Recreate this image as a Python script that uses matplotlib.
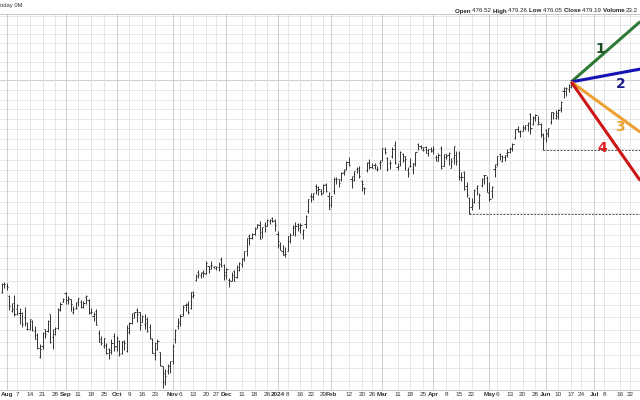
import numpy as np
import pandas as pd
import matplotlib
matplotlib.use("Agg")
import matplotlib.pyplot as plt

plt.rcParams['font.family'] = ['Liberation Sans', 'DejaVu Sans']

# trading calendar (US market holidays removed)
holidays = ["2023-09-04", "2023-11-23", "2023-12-25", "2024-01-01", "2024-01-15",
            "2024-02-19", "2024-03-29", "2024-05-27", "2024-06-19", "2024-07-04"]
first_day = "2023-07-28"

# daily bars Jul 28 2023 .. Jun 17 2024
opens = [380.5,
         384.0, 382.8, 378.6, 372.6, 375.9,
         373.3, 371.8, 371.9, 370.3, 365.3,
         365.4, 368.6, 364.5, 362.9, 354.3,
         358.7, 365.2, 364.6, 371.2, 362.0,
         365.3, 365.7, 373.6, 376.5, 380.1,
         377.0, 377.6, 372.2, 373.7,
         376.3, 376.4, 374.4, 378.4, 377.1,
         371.7, 370.6, 372.7, 363.8, 361.4,
         358.6, 359.0, 357.2, 356.1, 362.5,
         358.4, 360.7, 356.0, 360.2, 356.6,
         364.2, 367.8, 371.7, 372.9, 372.2,
         368.3, 367.2, 367.7, 366.1, 361.5,
         354.9, 359.7, 356.1, 350.7, 348.1,
         349.0, 350.6, 352.6, 361.3, 366.7,
         367.9, 371.3, 375.1, 375.6, 373.8,
         378.6, 385.6, 389.0, 387.6, 389.1,
         388.0, 391.3, 391.4, 391.1,
         390.6, 390.9, 394.5, 392.0, 387.5,
         385.6, 385.0, 389.5, 386.7, 389.9,
         392.4, 394.6, 398.0, 404.8, 403.9,
         405.5, 408.1, 409.4, 406.4, 409.5,
         409.0, 411.3, 412.5, 411.6,
         405.7, 400.5, 397.8, 396.6,
         398.0, 402.2, 405.2, 409.2, 410.0,
         408.0, 405.4, 410.0, 415.8,
         423.0, 422.8, 427.6, 427.2, 424.9,
         424.3, 428.2, 422.7, 418.7, 425.0,
         430.8, 430.5, 430.6, 433.9, 435.7,
         439.0, 430.7, 432.3, 435.7, 435.0,
         429.6, 426.7, 434.9, 438.8,
         436.3, 437.3, 435.7, 438.6, 439.7,
         445.1, 440.6, 438.4, 441.6, 446.9,
         436.4, 439.3, 442.9, 441.7, 435.1,
         437.0, 435.4, 437.9, 447.5, 446.4,
         444.6, 445.9, 444.5, 445.0,
         444.7, 441.1, 439.5, 445.7, 437.1,
         442.6, 442.3, 436.2, 440.6, 442.2,
         443.0, 431.8, 433.9, 427.4, 422.0,
         417.5, 420.0, 426.3, 419.8, 427.9,
         432.4, 431.4, 424.0, 424.9, 435.3,
         437.7, 442.9, 439.2, 441.5, 443.3,
         445.0, 445.5, 450.7, 455.2, 453.7,
         454.2, 455.5, 456.8, 462.8, 457.4,
         461.1, 457.7, 457.7, 452.6,
         454.3, 452.8, 458.6, 463.4, 460.8,
         461.4, 465.7, 474.6, 476.1, 475.5,
         476.52]
highs = [384.3,
         384.8, 384.1, 379.3, 375.9, 379.4,
         375.5, 373.7, 372.3, 374.1, 368.1,
         369.4, 369.1, 366.6, 363.8, 359.3,
         364.1, 365.3, 368.9, 371.4, 365.2,
         366.2, 374.0, 376.5, 378.1, 380.4,
         378.6, 377.7, 374.6, 376.2,
         378.1, 377.0, 376.8, 379.4, 377.4,
         373.9, 372.2, 373.4, 364.8, 362.6,
         361.8, 359.7, 357.7, 361.2, 363.6,
         362.5, 361.1, 360.6, 361.0, 367.0,
         368.0, 371.9, 372.3, 373.7, 372.2,
         371.1, 371.2, 370.3, 367.4, 361.9,
         360.2, 361.2, 356.3, 350.9, 349.5,
         351.6, 352.8, 359.4, 365.5, 369.9,
         371.2, 375.2, 376.0, 376.9, 380.6,
         380.9, 388.2, 389.7, 389.0, 389.6,
         393.5, 391.5, 393.8, 391.7,
         391.6, 393.4, 395.2, 392.4, 390.6,
         386.4, 388.8, 389.6, 391.9, 393.3,
         395.1, 398.1, 403.8, 405.5, 405.9,
         408.4, 410.0, 411.5, 408.6, 410.9,
         412.3, 412.4, 413.0, 412.2,
         406.8, 402.1, 400.5, 399.7,
         404.5, 406.1, 409.4, 410.7, 410.5,
         410.4, 407.6, 414.1, 421.3,
         424.0, 424.1, 428.2, 427.4, 426.0,
         428.2, 428.8, 424.6, 423.0, 431.5,
         431.7, 430.9, 434.0, 435.3, 439.5,
         441.3, 432.1, 434.4, 436.4, 436.9,
         430.3, 427.0, 438.9, 440.5,
         438.2, 438.3, 437.0, 439.7, 445.8,
         446.0, 441.2, 440.0, 445.9, 449.3,
         438.5, 444.0, 443.1, 441.9, 436.3,
         440.9, 438.6, 443.8, 447.9, 447.1,
         446.3, 446.7, 445.3, 446.0,
         446.4, 442.1, 443.2, 446.7, 442.7,
         442.9, 443.5, 440.7, 446.8, 444.3,
         444.3, 434.0, 434.4, 429.1, 422.3,
         421.9, 426.2, 427.9, 424.0, 431.4,
         432.5, 432.2, 429.4, 427.6, 437.7,
         441.9, 443.3, 442.0, 442.3, 445.1,
         445.9, 448.2, 455.2, 456.4, 454.4,
         456.9, 457.3, 458.6, 463.1, 461.6,
         462.6, 461.4, 458.0, 452.9,
         455.2, 455.5, 463.6, 463.7, 464.4,
         465.0, 469.0, 476.3, 476.7, 478.0,
         479.26]
lows = [379.9,
        382.1, 381.3, 372.9, 372.1, 370.6,
        370.9, 367.5, 366.0, 366.4, 364.9,
        364.9, 364.6, 361.2, 357.3, 353.8,
        357.3, 361.9, 364.0, 359.9, 357.5,
        362.9, 365.3, 372.8, 376.2, 375.4,
        375.6, 372.7, 371.4, 373.4,
        374.8, 373.9, 374.0, 375.4, 371.4,
        371.2, 368.7, 366.9, 360.0, 358.9,
        357.8, 355.5, 353.4, 355.6, 356.7,
        356.7, 354.6, 355.3, 357.1, 356.3,
        363.3, 367.2, 369.6, 368.0, 365.1,
        368.0, 365.4, 364.0, 361.2, 355.9,
        352.9, 356.8, 350.7, 342.4, 343.4,
        347.8, 347.9, 351.5, 359.9, 365.5,
        366.6, 370.4, 372.7, 371.4, 373.5,
        377.9, 385.0, 386.5, 386.4, 387.0,
        388.0, 388.6, 390.4, 390.6,
        389.9, 389.3, 391.0, 385.6, 386.1,
        382.5, 384.9, 385.0, 386.4, 389.2,
        391.1, 393.6, 396.0, 400.6, 403.2,
        405.2, 408.0, 403.2, 403.9, 406.4,
        408.9, 410.1, 411.0, 407.0,
        399.5, 398.4, 396.3, 395.3,
        397.8, 401.5, 404.9, 404.5, 407.0,
        406.1, 403.4, 408.0, 415.0,
        420.0, 420.9, 423.9, 423.4, 423.4,
        424.0, 424.6, 416.9, 417.8, 423.9,
        428.4, 426.8, 429.7, 432.8, 435.1,
        437.0, 426.4, 430.0, 433.4, 431.4,
        425.0, 423.9, 434.0, 435.5,
        435.9, 435.3, 434.3, 435.5, 439.3,
        442.7, 434.5, 435.6, 440.9, 437.7,
        435.2, 436.7, 438.7, 435.1, 431.6,
        436.3, 433.2, 437.1, 444.9, 445.3,
        444.1, 443.1, 441.8, 443.8,
        442.5, 439.5, 439.4, 435.5, 436.8,
        440.3, 437.6, 436.1, 437.8, 437.5,
        430.4, 430.0, 425.7, 422.1, 414.7,
        416.2, 419.7, 423.1, 417.0, 427.2,
        428.3, 424.6, 420.4, 421.7, 431.9,
        436.7, 440.0, 439.0, 439.3, 441.3,
        443.0, 444.0, 449.9, 453.6, 451.2,
        453.8, 454.3, 454.2, 452.5, 457.1,
        458.9, 457.3, 451.3, 444.7,
        448.6, 451.2, 457.7, 459.9, 460.0,
        460.3, 463.5, 470.6, 472.0, 474.0,
        476.05]
closes = [383.7,
          384.0, 382.5, 374.5, 373.4, 371.5,
          374.9, 371.6, 367.3, 367.7, 365.5,
          369.3, 365.0, 361.5, 357.7, 357.5,
          363.7, 363.2, 368.6, 360.0, 363.2,
          365.8, 373.2, 375.5, 377.6, 377.3,
          377.9, 375.5, 373.6, 374.0,
          378.0, 374.4, 375.9, 378.9, 372.1,
          372.4, 371.5, 367.0, 360.0, 359.8,
          361.6, 355.9, 356.8, 359.8, 358.3,
          361.9, 355.4, 360.4, 359.7, 365.6,
          367.6, 369.6, 372.0, 371.5, 366.8,
          370.5, 369.2, 364.6, 361.8, 356.0,
          357.4, 360.7, 351.3, 344.7, 346.9,
          350.8, 352.8, 358.7, 365.0, 368.6,
          370.6, 374.4, 374.9, 372.1, 380.5,
          379.2, 387.2, 387.9, 388.4, 388.5,
          392.6, 390.2, 391.8, 391.3,
          391.2, 392.4, 391.4, 388.8, 390.1,
          385.6, 387.7, 385.1, 390.9, 392.8,
          395.0, 398.1, 403.5, 403.5, 405.3,
          407.8, 409.9, 403.2, 408.6, 408.9,
          411.6, 411.9, 411.5, 409.5,
          402.6, 398.4, 396.3, 396.5,
          404.4, 405.2, 408.0, 409.0, 409.5,
          409.5, 407.2, 413.7, 421.2,
          422.2, 424.1, 425.4, 426.2, 423.8,
          428.1, 425.3, 417.0, 422.8, 430.9,
          430.7, 428.8, 433.7, 434.3, 439.0,
          437.2, 430.1, 434.3, 436.1, 432.3,
          428.5, 426.6, 438.4, 436.3,
          436.2, 437.2, 435.5, 439.0, 445.6,
          443.5, 435.5, 438.4, 445.0, 438.3,
          436.9, 443.8, 439.6, 440.2, 433.6,
          437.1, 438.2, 443.7, 446.4, 445.9,
          444.7, 443.2, 445.1, 444.0,
          445.4, 441.3, 442.4, 435.8, 441.3,
          441.6, 443.1, 439.2, 446.4, 439.2,
          431.5, 431.6, 426.2, 423.4, 415.0,
          418.8, 425.6, 427.6, 423.3, 430.5,
          432.4, 424.6, 421.4, 427.2, 436.6,
          441.8, 441.8, 441.5, 442.1, 443.7,
          445.1, 447.5, 454.9, 453.9, 453.9,
          456.1, 457.2, 457.9, 455.6, 460.6,
          462.1, 458.5, 451.9, 450.7,
          453.2, 455.3, 463.5, 463.0, 463.0,
          464.7, 468.8, 474.4, 476.1, 477.8,
          479.19]

# x-axis labels as printed on the chart
tick_dates = ["2023-08-01", "2023-08-07", "2023-08-14", "2023-08-21", "2023-08-28",
              "2023-09-01", "2023-09-11", "2023-09-18", "2023-09-25",
              "2023-10-02", "2023-10-09", "2023-10-16", "2023-10-23",
              "2023-11-01", "2023-11-06", "2023-11-13", "2023-11-20", "2023-11-27",
              "2023-12-01", "2023-12-11", "2023-12-18", "2023-12-26",
              "2024-01-02", "2024-01-08", "2024-01-16", "2024-01-22", "2024-01-29",
              "2024-02-01", "2024-02-12", "2024-02-20", "2024-02-26",
              "2024-03-01", "2024-03-11", "2024-03-18", "2024-03-25",
              "2024-04-01", "2024-04-08", "2024-04-15", "2024-04-22",
              "2024-05-01", "2024-05-06", "2024-05-13", "2024-05-20", "2024-05-28",
              "2024-06-03", "2024-06-10", "2024-06-17", "2024-06-24",
              "2024-07-01", "2024-07-08", "2024-07-16", "2024-07-22"]
tick_labels = ["Aug", "7", "14", "21", "28", "Sep", "11", "18", "25",
               "Oct", "9", "16", "23", "Nov", "6", "13", "20", "27",
               "Dec", "11", "18", "26", "2024", "8", "16", "22", "29",
               "Feb", "12", "20", "26", "Mar", "11", "18", "25",
               "Apr", "8", "15", "22", "May", "6", "13", "20", "28",
               "Jun", "10", "17", "24", "Jul", "8", "16", "22"]

# projection fan from the last close
fan_names = ["1", "2", "3", "4"]
fan_targets = [512.0, 486.0, 453.5, 430.0]
fan_end = "2024-07-26"
fan_colors = ["#2f7a36", "#1414b4", "#eea033", "#cc1616"]
label_colors = ["#1d4d22", "#1c1c8a", "#e9a535", "#e02020"]
label_days = [11.2, 19.5, 19.2, 12.3]
label_prices = [496.6, 477.9, 456.2, 445.8]

support_dates = ["2024-04-19", "2024-05-31"]

header_parts = [("Open ", True), ("476.52 ", False), ("High ", True), ("479.26 ", False),
                ("Low ", True), ("476.05 ", False), ("Close ", True), ("479.19 ", False),
                ("Volume ", True), ("23.2", False)]

cal = pd.bdate_range("2023-07-20", "2024-08-09", freq="C", holidays=holidays)
pos = {d: i for i, d in enumerate(cal)}
start = pos[pd.Timestamp(first_day)]
x = np.arange(start, start + len(closes))
o = np.array(opens); h = np.array(highs); l = np.array(lows); c = np.array(closes)

fig = plt.figure(figsize=(6.4, 4.0), dpi=100)
ax = fig.add_axes([0, 10 / 400, 1, 376 / 400])
ax.set_yscale('log')

px_day = 2.554
x_ref = pos[pd.Timestamp("2023-08-07")]
x0 = x_ref - 17 / px_day
x1 = x_ref + (640 - 17) / px_day
ax.set_xlim(x0, x1)
ax.set_ylim(341.65, 516.3)

# grid
for p in np.arange(345, 520, 5):
    ax.axhline(p, color='#c8c8c8' if p == 480 else '#e4e4e4', lw=0.6, zorder=0)
tx = [pos[pd.Timestamp(d)] for d in tick_dates]
for t, lab in zip(tx, tick_labels):
    month = not (lab.isdigit() and len(lab) <= 2)
    ax.axvline(t, color='#c8c8c8' if month else '#e2e2e2', lw=0.6, zorder=0)

# OHLC bars
bar_col = '#333333'
ax.vlines(x, l, h, color=bar_col, lw=0.7, zorder=3)
ax.hlines(o, x - 0.45, x, color=bar_col, lw=0.7, zorder=3)
ax.hlines(c, x, x + 0.45, color=bar_col, lw=0.7, zorder=3)

# support lines from the swing lows
for d in support_dates:
    i = pos[pd.Timestamp(d)] - start
    ax.hlines(l[i], x[i], x1, color='#555555', lw=0.7, linestyles=(0, (2, 1.5)), zorder=2)

# projection fan
xe = pos[pd.Timestamp(fan_end)]
for name, tgt, col, lcol, dd, lp in zip(fan_names, fan_targets, fan_colors,
                                         label_colors, label_days, label_prices):
    ax.plot([x[-1], xe], [c[-1], tgt], color=col, lw=2.2, solid_capstyle='butt', zorder=4)
    ax.text(x[-1] + dd, lp, name, color=lcol, fontsize=10, fontweight='bold',
            ha='center', va='center', family=['DejaVu Sans'], zorder=5)

ax.set_xticks(tx)
ax.set_xticklabels(tick_labels)
for t, lab in zip(ax.get_xticklabels(), tick_labels):
    t.set_fontsize(4.6)
    t.set_color('#333333')
    if not (lab.isdigit() and len(lab) <= 2):
        t.set_fontweight('bold')
ax.tick_params(axis='x', length=0, pad=1.5)
ax.yaxis.set_major_locator(plt.NullLocator())
ax.yaxis.set_minor_locator(plt.NullLocator())
for s in ['left', 'right']:
    ax.spines[s].set_visible(False)
ax.spines['top'].set_color('#bbbbbb')
ax.spines['top'].set_linewidth(0.6)
ax.spines['bottom'].set_color('#bbbbbb')
ax.spines['bottom'].set_linewidth(0.6)

# header
fig.text(0.0, 1 - 5 / 400, "oday 0M", fontsize=4.2, color='#333333', va='center')
fig.canvas.draw()
r = fig.canvas.get_renderer()
pieces = []
for txt, bold in header_parts:
    t = fig.text(0, 1 - 11 / 400, txt, fontsize=4.4, color='#222222', va='center',
                 fontweight='bold' if bold else 'normal')
    pieces.append((t, t.get_window_extent(r).width))
xp = 638 - sum(w for _, w in pieces)
for t, w in pieces:
    t.set_x(xp / 640)
    xp += w

fig.savefig("out.png", dpi=100)
